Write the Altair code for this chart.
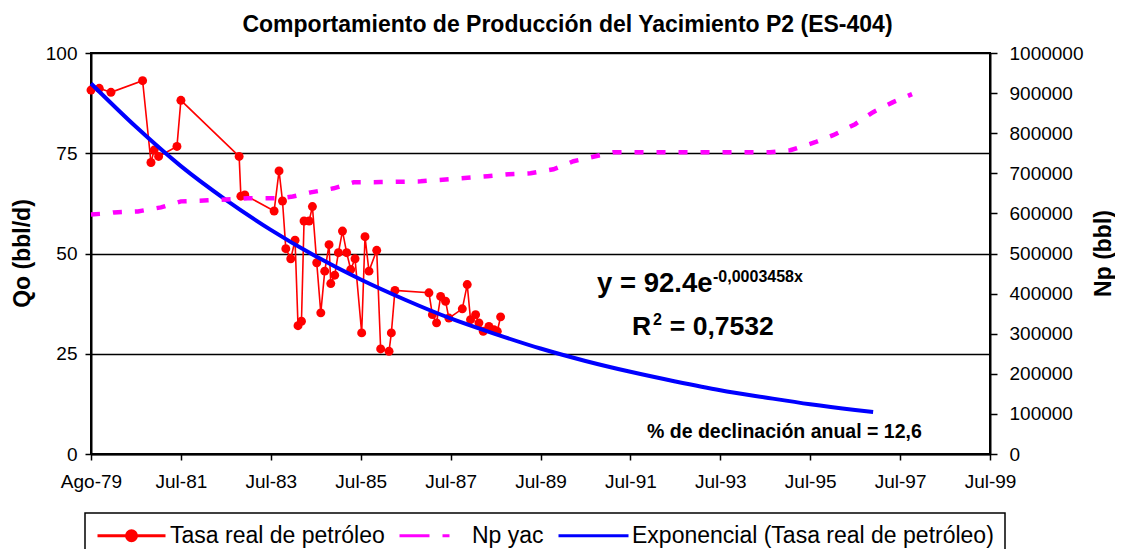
import altair as alt
import pandas as pd

# ---------------- data ----------------
# days since Ago-79 (x axis is day based, ticks every 730 days)
dias_tasa = [0, 67, 162, 419, 487, 513, 549, 698, 730, 1203, 1217, 1249,
             1487, 1527, 1555, 1582, 1622, 1657, 1681, 1709, 1730, 1771, 1798,
             1833, 1866, 1898, 1933, 1947, 1979, 2009, 2042, 2076, 2109, 2144,
             2198, 2225, 2257, 2320, 2352, 2420, 2439, 2468,
             2744, 2772, 2806, 2839, 2879, 2906,
             3015, 3055, 3082, 3123, 3150, 3185, 3231, 3271, 3299, 3326]
tasa = [90.75, 91.2, 90.2, 93.1, 72.7, 75.8, 74.2, 76.7, 88.2, 74.2, 64.3, 64.6,
        60.6, 70.6, 63.1, 51.2, 48.7, 53.3, 32.0, 33.1, 58.1, 58.1, 61.7,
        47.7, 35.2, 45.6, 52.2, 42.5, 44.6, 50.2, 55.6, 50.2, 46.0, 48.7,
        30.2, 54.2, 45.6, 50.8, 26.2, 25.6, 30.2, 40.8,
        40.2, 34.75, 32.7, 39.3, 38.1, 33.9,
        36.2, 42.25, 33.5, 34.75, 32.7, 30.6, 31.8, 31.0, 30.6, 34.2]

dias_np = [0, 138, 187, 381, 568, 730, 949, 1273, 1541, 1638, 1784, 1971, 2133,
           2352, 2677, 3220, 3390, 3569, 3755, 3918, 4096, 4242, 5515, 5678,
           5880, 6026, 6205, 6351, 6513, 6667]
np_yac = [597500, 600000, 602500, 605000, 615000, 630000, 632500, 637500, 638000,
          642000, 652500, 662500, 677500, 678000, 680000, 692500, 697500, 700000,
          710000, 730000, 742500, 752500, 752500, 757500, 777500, 795000, 822500,
          852500, 877500, 897500]

dias_exp = [0, 365, 730, 1095, 1460, 1825, 2190, 2555, 2920, 3285, 3650, 4015,
            4380, 4745, 5110, 5475, 5840, 6205, 6351]
exp_tasa = [92.4, 81.6, 71.8, 63.4, 55.9, 49.3, 43.5, 38.4, 33.8, 29.9, 26.3, 23.2,
            20.5, 18.1, 15.9, 14.1, 12.4, 11.0, 10.5]

tick_dias = [0, 730, 1460, 2190, 2920, 3650, 4380, 5110, 5840, 6570, 7300]
tick_labels = ["Ago-79", "Jul-81", "Jul-83", "Jul-85", "Jul-87", "Jul-89",
               "Jul-91", "Jul-93", "Jul-95", "Jul-97", "Jul-99"]
qo_ticks = [0, 25, 50, 75, 100]
np_ticks = [0, 100000, 200000, 300000, 400000, 500000, 600000, 700000, 800000,
            900000, 1000000]

series = ["Tasa real de petróleo", "Np yac", "Exponencial (Tasa real de petróleo)"]
colors = ["#FF0000", "#FF00FF", "#0000FF"]
legend_shapes = [
    "M-3.4,0H3.4M-0.5,0A0.5,0.5,0,1,1,0.5,0A0.5,0.5,0,1,1,-0.5,0Z",
    "M-3.4,0H-0.4M0.9,0H1.6",
    "M-3.5,0H3.5",
]

FONT = "Liberation Sans"

df_tasa = pd.DataFrame({"dia": dias_tasa, "qo": tasa})
df_np = pd.DataFrame({"dia": dias_np, "np": np_yac})
df_exp = pd.DataFrame({"dia": dias_exp, "qo": exp_tasa})
df_leg = pd.DataFrame({"serie": series})

# ---------------- scales & axes ----------------
x_scale = alt.Scale(domain=[0, 7300], nice=False, zero=False)
label_expr = "[" + ",".join("'%s'" % l for l in tick_labels) + "][round(datum.value/730)]"
x_axis = alt.Axis(values=tick_dias, labelExpr=label_expr, title=None, grid=False,
                  tickSize=6, labelPadding=12, labelFontSize=19, labelFont=FONT,
                  labelColor="black", tickColor="black", domainColor="black",
                  domainWidth=2, tickWidth=1.5, labelFlush=False, labelOverlap=False)

qo_scale = alt.Scale(domain=[0, 100], nice=False)
qo_axis = alt.Axis(values=qo_ticks, title="Qo (bbl/d)", grid=True, gridColor="black",
                   gridWidth=1.5, gridOpacity=1, tickSize=6, labelPadding=8,
                   labelFontSize=19, labelFont=FONT, labelColor="black",
                   tickColor="black", domainColor="black", domainWidth=2, tickWidth=1.5,
                   titleFont=FONT, titleFontSize=23, titleFontWeight="bold",
                   titleColor="black", titleX=-69, titleY=200, titleAngle=270,
                   titleAlign="center", titleBaseline="middle")

np_scale = alt.Scale(domain=[0, 1000000], nice=False)
np_axis = alt.Axis(values=np_ticks, orient="right", format="d", title="Np (bbl)",
                   grid=False, tickSize=7, labelPadding=12, labelFontSize=19,
                   labelFont=FONT, labelColor="black", tickColor="black",
                   domainColor="black", domainWidth=2, tickWidth=1.5,
                   titleFont=FONT, titleFontSize=23, titleFontWeight="bold",
                   titleColor="black", titleX=113, titleY=200, titleAngle=270,
                   titleAlign="center", titleBaseline="middle")

X = alt.X("dia:Q", scale=x_scale, axis=x_axis)

# ---------------- layers ----------------
tasa_line = alt.Chart(df_tasa).mark_line(color="#FF0000", strokeWidth=1.6).encode(
    x=X, y=alt.Y("qo:Q", scale=qo_scale, axis=qo_axis))
tasa_pts = alt.Chart(df_tasa).mark_circle(color="#FF0000", size=80, opacity=1).encode(
    x=X, y=alt.Y("qo:Q", scale=qo_scale, axis=qo_axis))
exp_line = alt.Chart(df_exp).mark_line(color="#0000FF", strokeWidth=4,
                                       interpolate="monotone").encode(
    x=X, y=alt.Y("qo:Q", scale=qo_scale, axis=qo_axis))

leg = dict(title=None, orient="none", legendX=-6, legendY=460, direction="horizontal")
legend_layer = alt.Chart(df_leg).transform_filter("false").mark_point(
    filled=True, opacity=1, strokeWidth=3).encode(
    x=X, y=alt.Y("qo:Q", scale=qo_scale, axis=qo_axis),
    fill=alt.Fill("serie:N", scale=alt.Scale(domain=series, range=colors), legend=alt.Legend(**leg)),
    stroke=alt.Stroke("serie:N", scale=alt.Scale(domain=series, range=colors), legend=alt.Legend(**leg)),
    shape=alt.Shape("serie:N", scale=alt.Scale(domain=series, range=legend_shapes), legend=alt.Legend(**leg)),
)


def txt(t, d, q, size):
    return alt.Chart(df_leg).transform_filter("datum.serie == 'Np yac'").mark_text(
        text=t, align="left", baseline="alphabetic", font=FONT, fontSize=size,
        fontWeight="bold", color="black").encode(
        x=alt.XDatum(d, type="quantitative", scale=x_scale, axis=x_axis),
        y=alt.YDatum(q, type="quantitative", scale=qo_scale, axis=qo_axis))


texts = [
    txt("y = 92.4e", 4109, 40.4, 27.5),
    txt("-0,0003458x", 5051, 42.9, 16),
    txt("R", 4393, 29.7, 26.5),
    txt("2", 4563, 32.2, 16),
    txt("= 0,7532", 4700, 29.7, 26.5),
    txt("% de declinación anual = 12,6", 4515, 4.0, 19.5),
]

left = alt.layer(tasa_line, tasa_pts, exp_line, *texts, legend_layer)

np_line = alt.Chart(df_np).mark_line(color="#FF00FF", strokeWidth=4.5,
                                     strokeDash=[9, 13]).encode(
    x=X, y=alt.Y("np:Q", scale=np_scale, axis=np_axis))

chart = alt.layer(left, np_line).resolve_scale(y="independent").properties(
    width=899, height=401,
    autosize=alt.AutoSizeParams(type="none"),
    padding={"left": 83, "top": 45, "right": 125, "bottom": 95},
    title=alt.TitleParams("Comportamiento de Producción del Yacimiento P2 (ES-404)",
                          font=FONT, fontSize=23, fontWeight="bold", color="black",
                          anchor="middle", dx=27, offset=7),
).configure(background="white").configure_view(
    stroke="black", strokeWidth=2
).configure_legend(
    labelFont=FONT, labelFontSize=23, labelColor="black", labelLimit=1000,
    strokeColor="black", strokeWidth=1.5, padding=11, symbolSize=400,
    symbolStrokeWidth=3, symbolOffset=24, labelOffset=27, columnPadding=8,
    fillColor="white",
)

chart.save("out.html", embed_options={"renderer": "svg", "actions": False})
